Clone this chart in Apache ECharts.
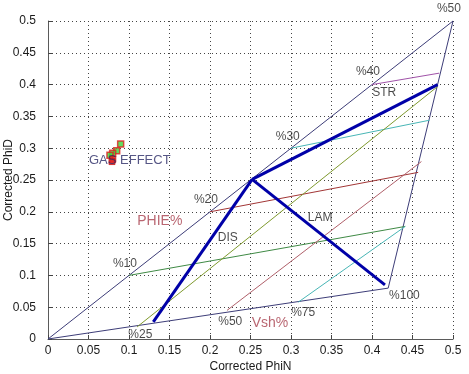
<!DOCTYPE html>
<html>
<head>
<meta charset="utf-8">
<script src="https://cdn.jsdelivr.net/npm/echarts@6/dist/echarts.min.js"></script>
<style>
html,body{margin:0;padding:0;background:#fff;}
#c{width:469px;height:374px;}
</style>
</head>
<body>
<div id="c"></div>
<script>
// ---- data ----
const axisTicks = [0, 0.05, 0.1, 0.15, 0.2, 0.25, 0.3, 0.35, 0.4, 0.45, 0.5];

// outline triangle: clean point (0,0) -> matrix (0.5,0.5) -> shale point -> back
const outlineX = [0, 0.5, 0.42, 0];
const outlineY = [0, 0.5, 0.08, 0];

// PHIE iso-lines (start on the clean line, end on right edge)
const phieLevels = ['%10', '%20', '%30', '%40'];
const phieStartX = [0.1, 0.2, 0.3, 0.4];
const phieStartY = [0.1, 0.2, 0.3, 0.4];
const phieEndX = [0.441, 0.457, 0.471, 0.483];
const phieEndY = [0.177, 0.262, 0.344, 0.418];

// Vsh iso-lines (start on bottom line, end on right edge)
const vshLevels = ['%25', '%50', '%75'];
const vshStartX = [0.110, 0.221, 0.309];
const vshStartY = [0.019, 0.045, 0.058];
const vshEndX = [0.481, 0.461, 0.441];
const vshEndY = [0.397, 0.279, 0.177];

// Thomas-Stieber style model lines
const disX = [0.130, 0.252];
const disY = [0.027, 0.251];
const strX = [0.252, 0.481];
const strY = [0.251, 0.400];
const lamX = [0.252, 0.416];
const lamY = [0.251, 0.085];

// gas-effect samples
const gasX = [0.0897, 0.0848, 0.0798, 0.0765];
const gasY = [0.3066, 0.2960, 0.2920, 0.2890];
const gasRedX = [0.0800, 0.0790];
const gasRedY = [0.2825, 0.2790];

// annotation texts
const labelText = ['%50', '%40', 'STR', '%30', '%20', 'PHIE%', 'DIS', '%10', '%25', '%50', 'Vsh%', '%75', '%100', 'LAM', 'GAS EFFECT'];
const labelX = [0.495, 0.395, 0.415, 0.296, 0.195, 0.138, 0.222, 0.095, 0.114, 0.225, 0.274, 0.315, 0.440, 0.336, 0.101];
const labelY = [0.520, 0.420, 0.387, 0.318, 0.219, 0.186, 0.159, 0.119, 0.006, 0.027, 0.025, 0.042, 0.068, 0.190, 0.280];

// ---- styles ----
const FONT = 'Liberation Sans, Arial, sans-serif';
const phieColors = ['#3f8a45', '#a23636', '#48b6b6', '#a052a8'];
const vshColors = ['#7f9a2e', '#b0606a', '#48b6b6'];
const outlineColor = '#3d3d78';
const modelColor = '#0000a8';
const labelStyle = {
  'PHIE%': {color: '#a8404e', fontSize: 14},
  'Vsh%': {color: '#a8404e', fontSize: 14},
  'GAS EFFECT': {color: '#2c2c66', fontSize: 13}
};

function seg(xs, ys) { return xs.map((x, i) => [x, ys[i]]); }
function lineSeries(data, color, width, z) {
  return {
    type: 'line', data: data, showSymbol: false, symbol: 'none',
    lineStyle: {color: color, width: width}, silent: true, z: z, clip: false,
    animation: false
  };
}

const series = [];
series.push(lineSeries(seg(outlineX, outlineY), outlineColor, 1, 2));
phieLevels.forEach((lv, i) => {
  series.push(lineSeries([[phieStartX[i], phieStartY[i]], [phieEndX[i], phieEndY[i]]], phieColors[i], 1, 2));
});
vshLevels.forEach((lv, i) => {
  series.push(lineSeries([[vshStartX[i], vshStartY[i]], [vshEndX[i], vshEndY[i]]], vshColors[i], 1, 2));
});
series.push(lineSeries(seg(disX, disY), modelColor, 3, 4));
series.push(lineSeries(seg(strX, strY), modelColor, 3, 4));
series.push(lineSeries(seg(lamX, lamY), modelColor, 3, 4));

series.push({
  type: 'scatter', data: seg(gasX, gasY), symbol: 'rect', symbolSize: 6,
  itemStyle: {color: '#3ad43a', borderColor: '#e02020', borderWidth: 1.5}, z: 5, animation: false
});
series.push({
  type: 'scatter', data: seg(gasRedX, gasRedY), symbol: 'rect', symbolSize: 6,
  itemStyle: {color: '#e02020', borderColor: '#d01818', borderWidth: 1}, z: 5, animation: false
});

series.push({
  type: 'scatter', symbolSize: 0, clip: false, z: 6, animation: false, silent: true,
  data: labelText.map((t, i) => {
    const st = labelStyle[t] || {color: '#1a1a1a', fontSize: 12};
    return {
      name: t, value: [labelX[i], labelY[i]],
      label: {show: true, position: 'inside', formatter: '{b}', color: st.color,
              fontSize: st.fontSize, fontFamily: FONT}
    };
  })
});

function axisCfg(name, isX) {
  return {
    type: 'value', min: axisTicks[0], max: axisTicks[axisTicks.length - 1], interval: 0.05,
    name: name, nameLocation: 'middle', nameGap: isX ? 22 : 33, nameRotate: isX ? 0 : 90,
    nameTextStyle: {color: '#1a1a1a', fontSize: 12, fontFamily: FONT},
    nameMoveOverlap: false,
    axisLine: {show: true, onZero: false, lineStyle: {color: '#5a5a5a', width: 1}},
    axisTick: {show: true, inside: true, length: 4, lineStyle: {color: '#444'}},
    axisLabel: {color: '#1a1a1a', fontSize: 12, fontFamily: FONT, margin: isX ? 6 : 12,
                formatter: v => String(+(+v).toFixed(2))},
    splitLine: {show: true, showMinLine: false, showMaxLine: true,
                lineStyle: {color: '#444', width: 1, type: [1, 3]}}
  };
}

const chart = echarts.init(document.getElementById('c'), null, {renderer: 'canvas'});
chart.setOption({
  animation: false,
  backgroundColor: '#fff',
  grid: {left: 48, right: 16, top: 21, bottom: 35, containLabel: false, outerBoundsMode: 'none'},
  xAxis: axisCfg('Corrected PhiN', true),
  yAxis: axisCfg('Corrected PhiD', false),
  series: series
});
</script>
</body>
</html>
